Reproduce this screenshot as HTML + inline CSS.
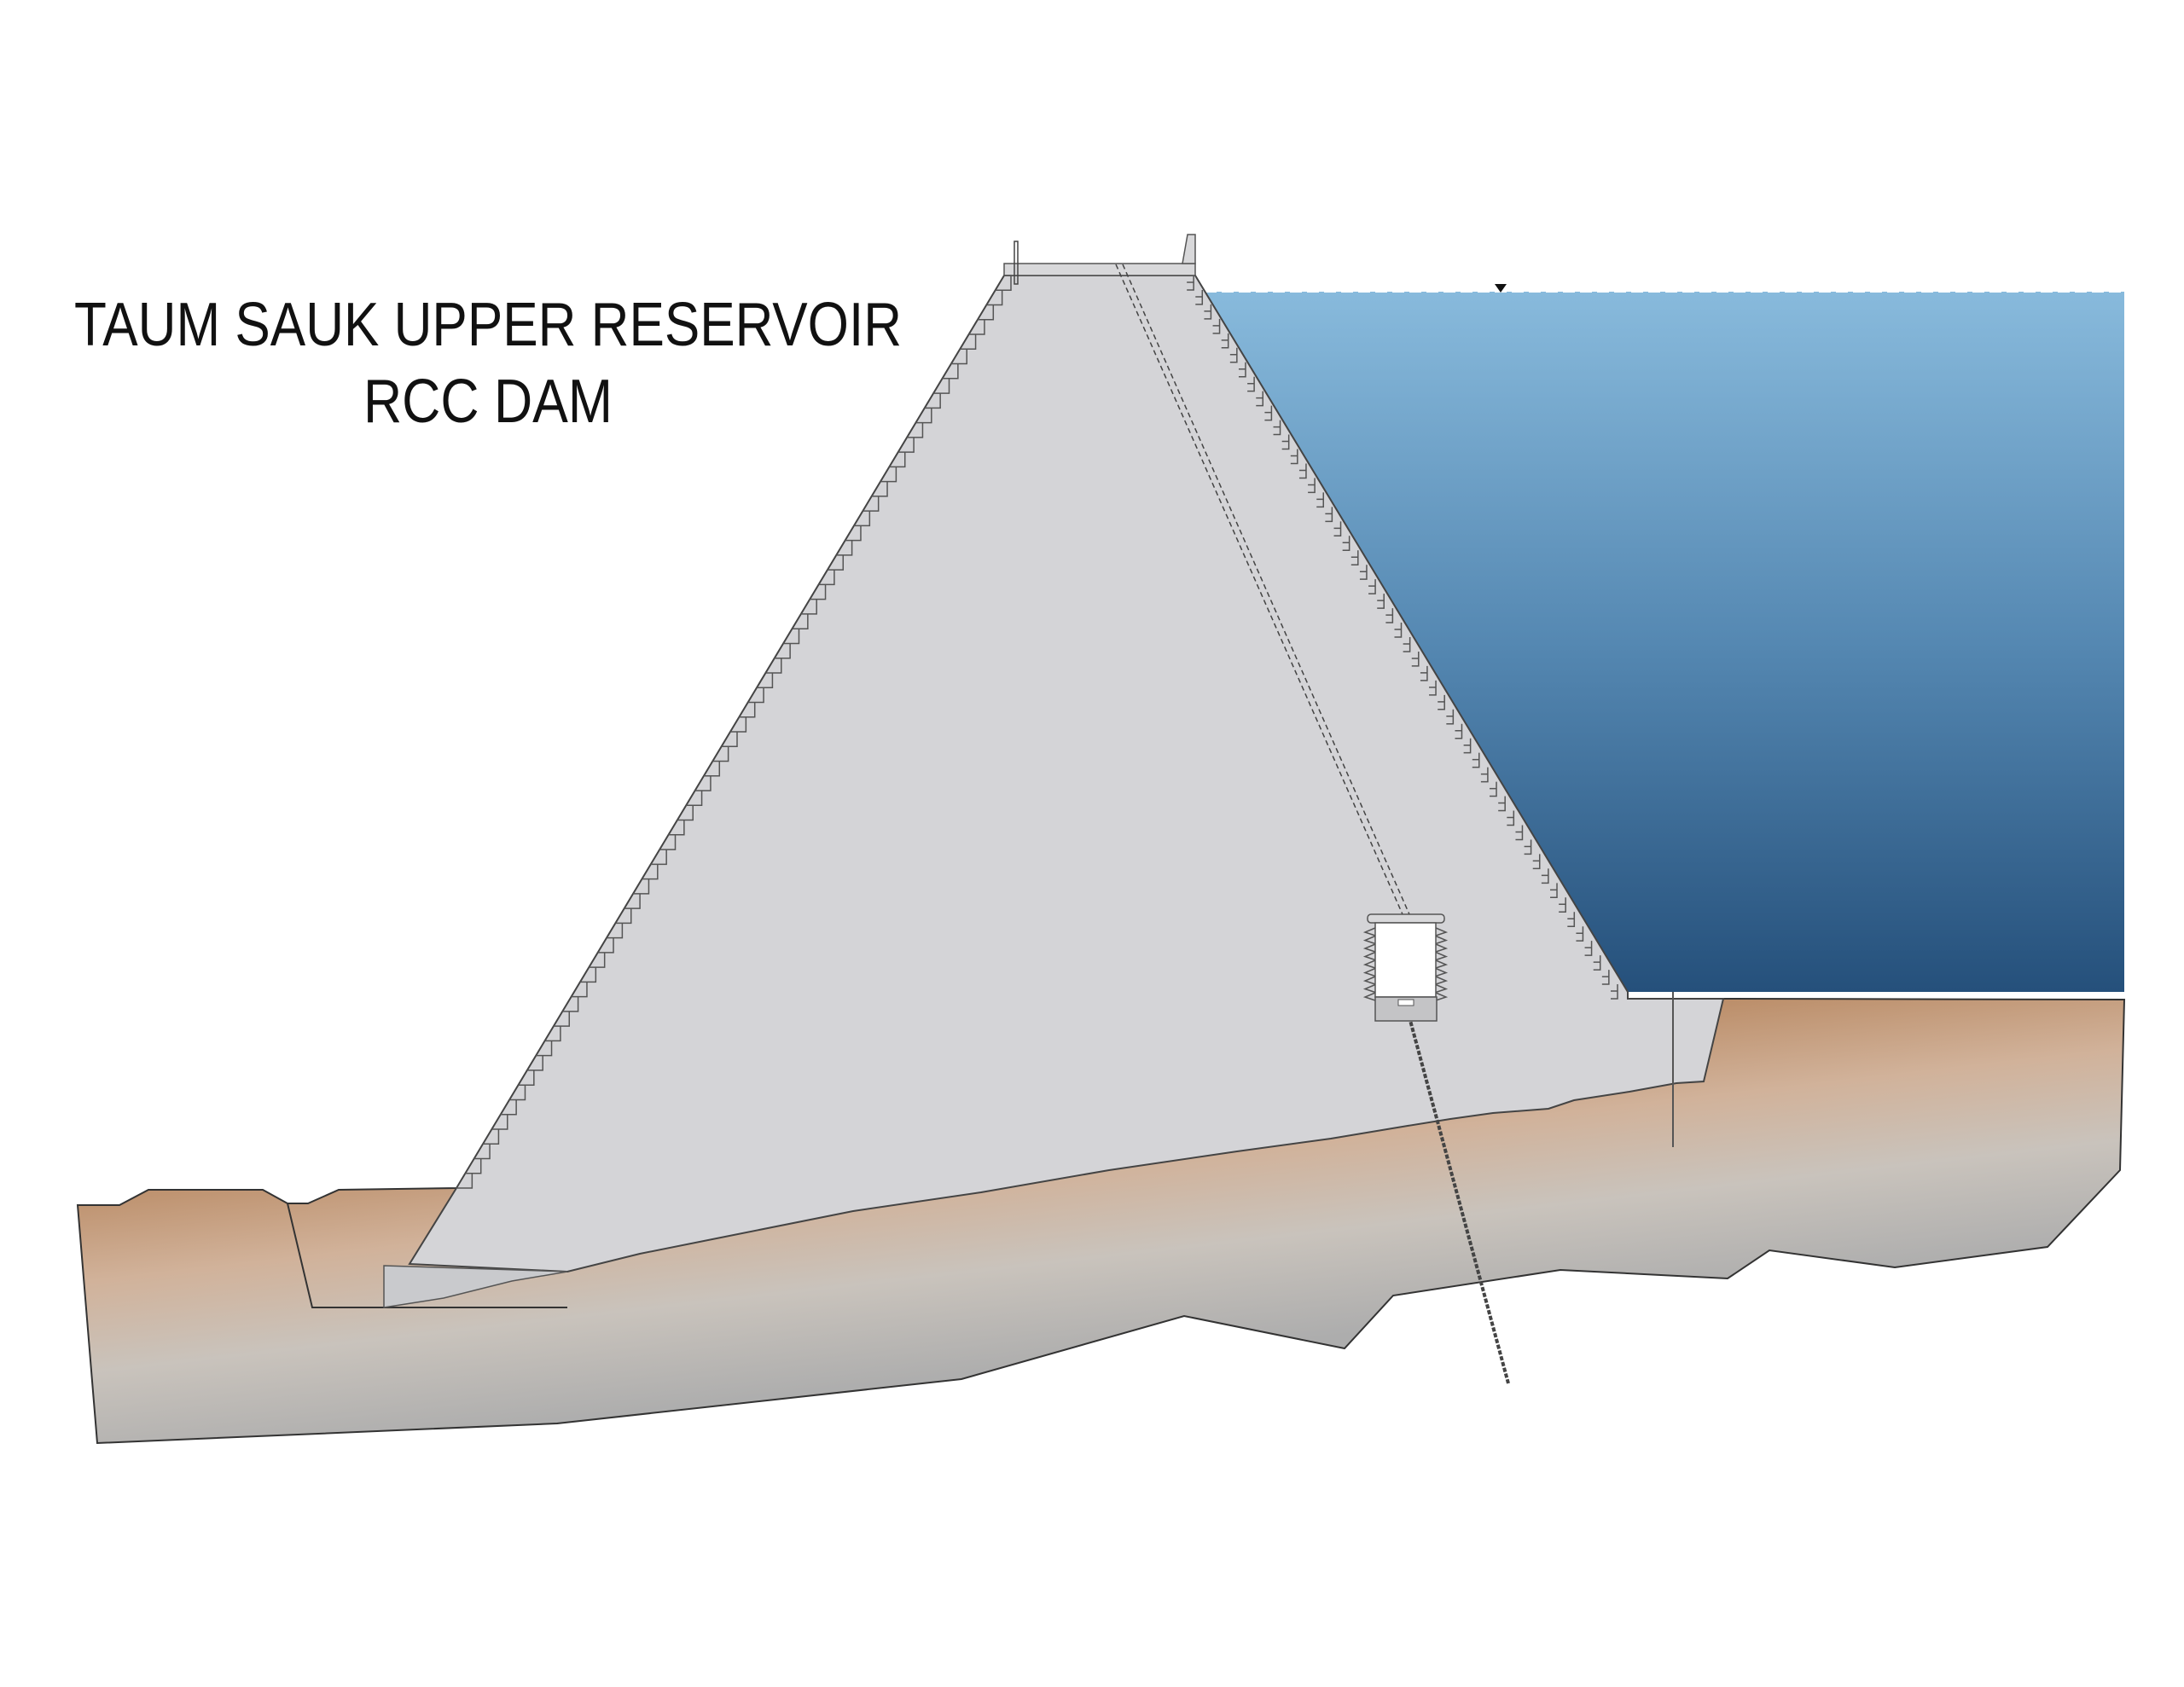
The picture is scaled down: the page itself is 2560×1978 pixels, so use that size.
<!DOCTYPE html>
<html><head><meta charset="utf-8"><style>
html,body{margin:0;padding:0;background:#fff;}
svg{display:block;}
</style></head><body>
<svg id="s" width="2560" height="1978" viewBox="0 0 2560 1978" xmlns="http://www.w3.org/2000/svg">
<defs>
<linearGradient id="water" x1="0" y1="342" x2="0" y2="1163" gradientUnits="userSpaceOnUse">
<stop offset="0" stop-color="#88badc"/><stop offset="0.5" stop-color="#5588b2"/><stop offset="1" stop-color="#25507b"/>
</linearGradient>
<linearGradient id="ground" x1="1230" y1="1250" x2="1270" y2="1600" gradientUnits="userSpaceOnUse">
<stop offset="0" stop-color="#b98a64"/><stop offset="0.35" stop-color="#d1b29a"/><stop offset="0.65" stop-color="#c9c3bc"/><stop offset="1" stop-color="#adadad"/>
</linearGradient>
</defs>
<text x="572" y="405" font-family="Liberation Sans, sans-serif" font-size="72" text-anchor="middle" textLength="970" lengthAdjust="spacingAndGlyphs" fill="#111">TAUM SAUK UPPER RESERVOIR</text>
<text x="572" y="495" font-family="Liberation Sans, sans-serif" font-size="72" text-anchor="middle" textLength="292" lengthAdjust="spacingAndGlyphs" fill="#111">RCC DAM</text>

<polygon fill="url(#water)" points="1412,342 2490,342 2490,1163 1908,1163"/>
<line x1="1412" y1="342" x2="2490" y2="342" stroke="#fff" stroke-width="2" stroke-dasharray="14,6"/>
<polygon points="1752,333 1766,333 1759,343" fill="#111"/>

<polygon fill="url(#ground)" stroke="#333" stroke-width="2" points="91,1413 140,1413 174,1395 308,1395 337,1411 361,1411 397,1395 535,1393 1300,1250 2020,1171 2490,1172 2485,1372 2400,1462 2221,1486 2074,1466 2025,1499 1829,1489 1633,1519 1576,1581 1388,1543 1127,1617 653,1669 114,1692"/>
<polyline fill="none" stroke="#333" stroke-width="2" points="337,1411 366,1533 665,1533"/>

<polygon fill="#d4d4d7" stroke="#444" stroke-width="2" points="1177,323 1401,323 1908,1163 1908,1171 2020,1171 1997,1268 1965,1270 1910,1280 1845,1290 1815,1300 1750,1305 1700,1312 1650,1320 1560,1335 1450,1350 1300,1372 1150,1398 1000,1420 850,1450 750,1470 665,1491 480,1482 535,1393"/>
<polygon fill="#c9cacd" stroke="#555" stroke-width="1.5" points="450,1484 665,1491 600,1502 520,1522 450,1533"/>
<rect x="1177" y="309" width="224" height="14" fill="#d8d8da" stroke="#555" stroke-width="1.5"/>
<polygon points="1386,309 1401,309 1401,275 1392,275" fill="#d8d8da" stroke="#555" stroke-width="1.5"/>
<rect x="1189" y="283" width="4" height="50" fill="none" stroke="#444" stroke-width="1.5"/>
<path id="steps" fill="none" stroke="#555" stroke-width="1.5" d=""/>

<g fill="none" stroke="#444" stroke-width="1.5" stroke-dasharray="6,4">
<line x1="1308" y1="310" x2="1644" y2="1072"/>
<line x1="1316" y1="310" x2="1652" y2="1072"/>
</g>
<line x1="1648" y1="1178" x2="1768" y2="1622" stroke="#444" stroke-width="4" stroke-dasharray="5,2"/>
<line x1="1961" y1="1163" x2="1961" y2="1345" stroke="#555" stroke-width="2"/>

<rect x="1603" y="1072" width="90" height="10" rx="4" fill="#d8d8da" stroke="#555" stroke-width="1.5"/>
<rect x="1612" y="1082" width="71" height="87" fill="#fff" stroke="#555" stroke-width="1.5"/>
<rect x="1612" y="1169" width="72" height="28" fill="#c4c4c6" stroke="#555" stroke-width="1.5"/>
<rect x="1639" y="1172" width="18" height="7" fill="#fff" stroke="#555" stroke-width="1"/>
</svg>
<script>
(function(){
var d="";
var x0=1177,y0=323,x1=535,y1=1393,n=62;
for(var i=0;i<n;i++){var ya=y0+(y1-y0)*i/n,yb=y0+(y1-y0)*(i+1)/n,xa=x0+(x1-x0)*i/n,xb=x0+(x1-x0)*(i+1)/n;
d+="M"+xa+","+ya+" L"+(xa+8)+","+ya+" L"+(xa+8)+","+yb+" L"+xb+","+yb+" ";}
x0=1401;y0=323;x1=1908;y1=1171;n=50;
for(i=0;i<n;i++){var ya=y0+(y1-y0)*i/n,yb=y0+(y1-y0)*(i+1)/n,xa=x0+(x1-x0)*i/n,xb=x0+(x1-x0)*(i+1)/n;
d+="M"+(xb-12)+","+ya+" L"+(xb-12)+","+yb+" L"+(xb-20)+","+yb+" M"+(xb-12)+","+(ya+8)+" L"+(xb-20)+","+(ya+8)+" ";}
for(i=0;i<9;i++){var y=1088+i*9.5;d+="M1612,"+y+" L1600,"+(y+5)+" L1612,"+(y+9)+" M1683,"+y+" L1695,"+(y+5)+" L1683,"+(y+9)+" ";}
document.getElementById("steps").setAttribute("d",d);
})();
</script>
</body></html>
